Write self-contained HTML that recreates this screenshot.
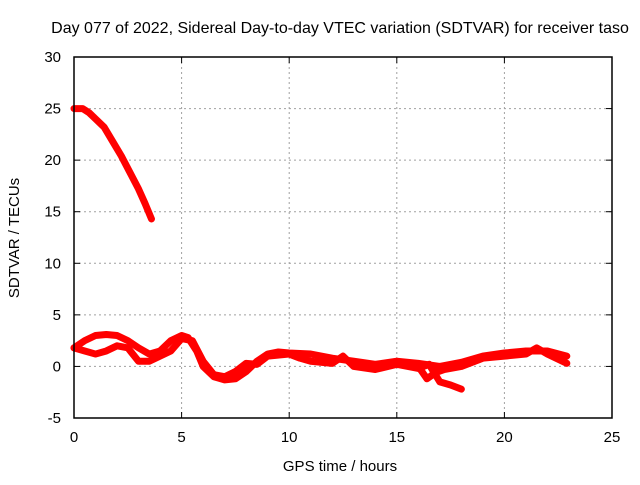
<!DOCTYPE html>
<html><head><meta charset="utf-8"><style>
body{margin:0;background:#fff}
svg text{font-family:"Liberation Sans",sans-serif;font-size:15px;fill:#000}
</style></head><body>
<svg id="chart" width="640" height="480">
<text x="340" y="33" text-anchor="middle" style="font-size:16px">Day 077 of 2022, Sidereal Day-to-day VTEC variation (SDTVAR) for receiver taso</text>
<g id="grid"></g>
<g id="ticks"></g>
<g id="data"></g>
<rect x="74" y="57" width="538" height="361" fill="none" stroke="#000" stroke-width="1.5"/>
<text x="340" y="471" text-anchor="middle">GPS time / hours</text>
<text x="19" y="238" text-anchor="middle" transform="rotate(-90 19 238)">SDTVAR / TECUs</text>
</svg>
<script>
const xTicks=[0,5,10,15,20,25];
const yTicks=[-5,0,5,10,15,20,25,30];
const sTopX=[0,0.4,0.7,1,1.4,1.8,2.2,2.6,3,3.3,3.6];
const sTopY=[25,25,24.6,24,23.2,21.8,20.4,18.8,17.2,15.8,14.3];
const s1X=[0,0.5,1,1.5,2,2.5,3,3.5,4,4.5,5,5.3,5.7,6,6.5,7,7.5,8,8.5,9,9.5,10,11,12,13,14,15,16,17,18,19,20,21,22,22.9];
const s1Y=[1.8,2.5,3,3.1,3,2.5,1.8,1.2,1.5,2.5,3,2.8,1.5,0,-1,-1.3,-1.2,-0.5,0.5,1.2,1.4,1.3,1.2,0.8,0.5,0.2,0.5,0.3,0,0.4,1,1.3,1.5,1.5,1];
const s2X=[0,0.5,1,1.5,2,2.5,3,3.5,4,4.5,5,5.5,6,6.5,7,7.5,8,8.5,9,10,10.5,11,12,12.5,13,14,15,16,16.5,17,17.5,18];
const s2Y=[1.8,1.5,1.2,1.5,2,1.8,0.5,0.5,1,1.5,2.7,2.5,0.5,-0.8,-1,-0.5,0.3,0.2,1,1.2,0.8,0.5,0.3,1,0,-0.3,0.2,-0.2,0.2,-1.5,-1.8,-2.2];
const s3X=[16,16.4,16.8,17.2,18,19,20,21,21.5,22,22.9];
const s3Y=[0,-1.2,-0.6,-0.3,0,0.8,1,1.2,1.8,1.2,0.3];
const L=74,R=612,T=57,B=418;
const xs=v=>L+(v-0)/25*(R-L);
const ys=v=>B-(v+5)/35*(B-T);
const NS='http://www.w3.org/2000/svg';
const grid=document.getElementById('grid'),ticks=document.getElementById('ticks'),data=document.getElementById('data');
function mk(tag,attrs,parent){const e=document.createElementNS(NS,tag);for(const k in attrs)e.setAttribute(k,attrs[k]);parent.appendChild(e);return e;}
xTicks.forEach(t=>{
  const x=xs(t);
  if(t>0&&t<25){const g=mk('line',{x1:x,x2:x,y1:T,y2:B,stroke:'#a0a0a0','stroke-dasharray':'2,3'},grid);
  
  }
  mk('line',{x1:x,x2:x,y1:B,y2:B-6,stroke:'#000'},ticks);
  mk('line',{x1:x,x2:x,y1:T,y2:T+6,stroke:'#000'},ticks);
  const tx=mk('text',{x:x,y:B+24,'text-anchor':'middle'},ticks);tx.textContent=t;
  
  
});
yTicks.forEach(t=>{
  const y=ys(t);
  if(t>-5&&t<30){const g=mk('line',{x1:L,x2:R,y1:y,y2:y,stroke:'#a0a0a0','stroke-dasharray':'2,3'},grid);
  
  }
  mk('line',{x1:L,x2:L+6,y1:y,y2:y,stroke:'#000'},ticks);
  mk('line',{x1:R,x2:R-6,y1:y,y2:y,stroke:'#000'},ticks);
  const tx=mk('text',{x:L-13,y:y+5,'text-anchor':'end'},ticks);tx.textContent=t;
  
  
});
function series(X,Y,name){
  const p=mk('polyline',{points:X.map((x,i)=>xs(x)+','+ys(Y[i])).join(' '),fill:'none',stroke:'#ff0000','stroke-width':7,'stroke-linejoin':'round','stroke-linecap':'round'},data);
  
  
}
series(sTopX,sTopY,'series-high');
series(s1X,s1Y,'series-track-1');
series(s2X,s2Y,'series-track-2');
series(s3X,s3Y,'series-track-3');
</script>
</body></html>
